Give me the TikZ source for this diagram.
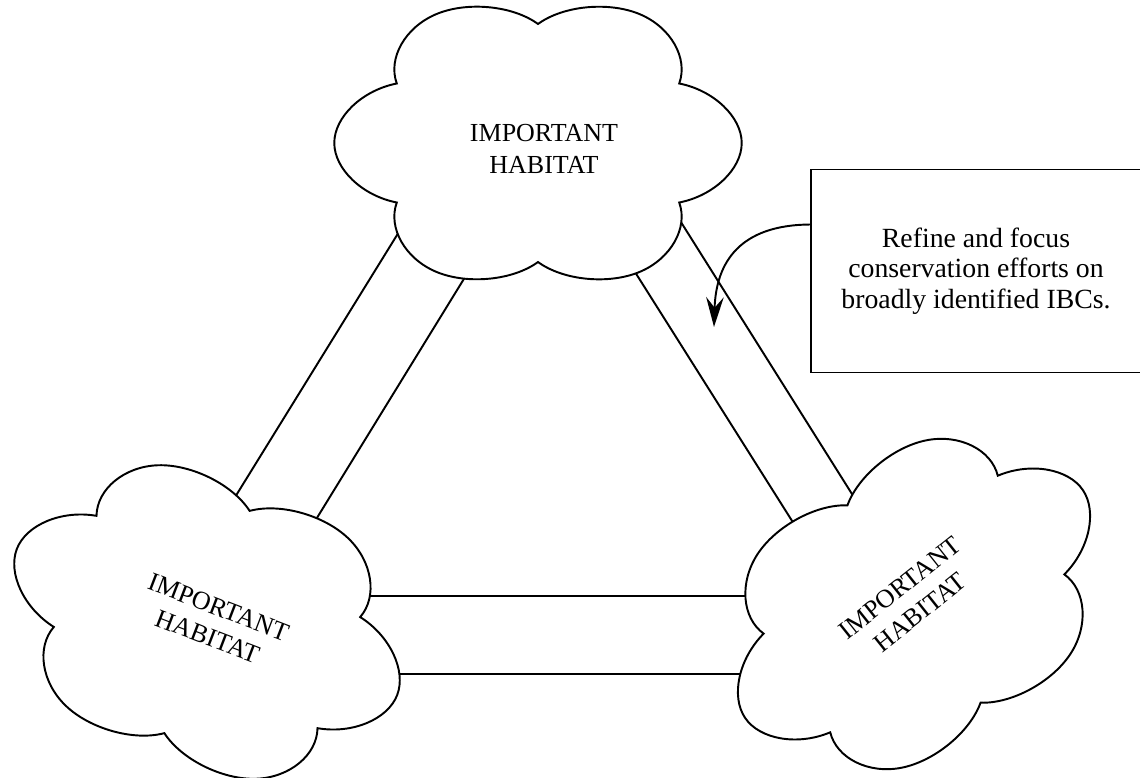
\documentclass[tikz,border=0pt]{standalone}
\usepackage{fontspec}
\setmainfont{Liberation Serif}
\usetikzlibrary{shapes.symbols,arrows.meta}
\newcommand{\linew}{1.1pt}

\begin{document}
\begin{tikzpicture}[x=0.02cm,y=-0.02cm,line width=\linew,
    habitat/.style={draw, fill=white, cloud, cloud puffs=6, cloud puff arc=150,
      cloud ignores aspect, minimum size=5.95cm, inner sep=0pt},
    habitattext/.style={align=center, inner sep=0pt, font=\fontsize{14.8}{18}\selectfont}]

\useasboundingbox (0,0) rectangle (1140,778);

        % corridor ends, the clouds cover them
        \coordinate (lo1) at (423,193);
        \coordinate (lo2) at (211,536);
        \coordinate (li1) at (486,243);
        \coordinate (li2) at (296,552);
        \coordinate (ro1) at (657,184);
        \coordinate (ro2) at (874,529);
        \coordinate (ri1) at (611,234);
        \coordinate (ri2) at (818,562);
        \coordinate (bu1) at (323,596);
        \coordinate (bu2) at (795,596);
        \coordinate (bl1) at (363,674);
        \coordinate (bl2) at (777,674);
        \draw
        (lo1) -- (lo2)  (li1) -- (li2)
        (ro1) -- (ro2)  (ri1) -- (ri2)
        (bu1) -- (bu2)  (bl1) -- (bl2);

        % round cloud, turned so a notch sits on top, then stretched
        \node (top) at (538,143) [habitat, xscale=1.37, rotate=30] {};
        \node (left) at (207,622) [habitat, rotate=-21, xscale=1.37, rotate=30] {};
        \node (right) at (914,604) [habitat, rotate=34, xscale=1.37, rotate=30] {};
        \node (toptext) at (544,149) [habitattext] {IMPORTANT\\HABITAT};
        \node (lefttext) at (213,622) [habitattext, rotate=-21] {IMPORTANT\\HABITAT};
        \node (righttext) at (910,600) [habitattext, rotate=38.5] {IMPORTANT\\HABITAT};

        \node (note) at (976,271) [draw, minimum width=6.6cm, minimum height=4.06cm,
          align=center, font=\fontsize{15.8}{17.3}\selectfont]
          {Refine and focus\\conservation efforts on\\broadly identified IBCs.};
        \coordinate (tip) at (714,327);
        \draw[-{Stealth[length=17pt,width=10pt,inset=6pt]}]
        ([yshift=0.93cm]note.west) .. controls (740,225) and (716,262) .. (tip);
\end{tikzpicture}
\end{document}
